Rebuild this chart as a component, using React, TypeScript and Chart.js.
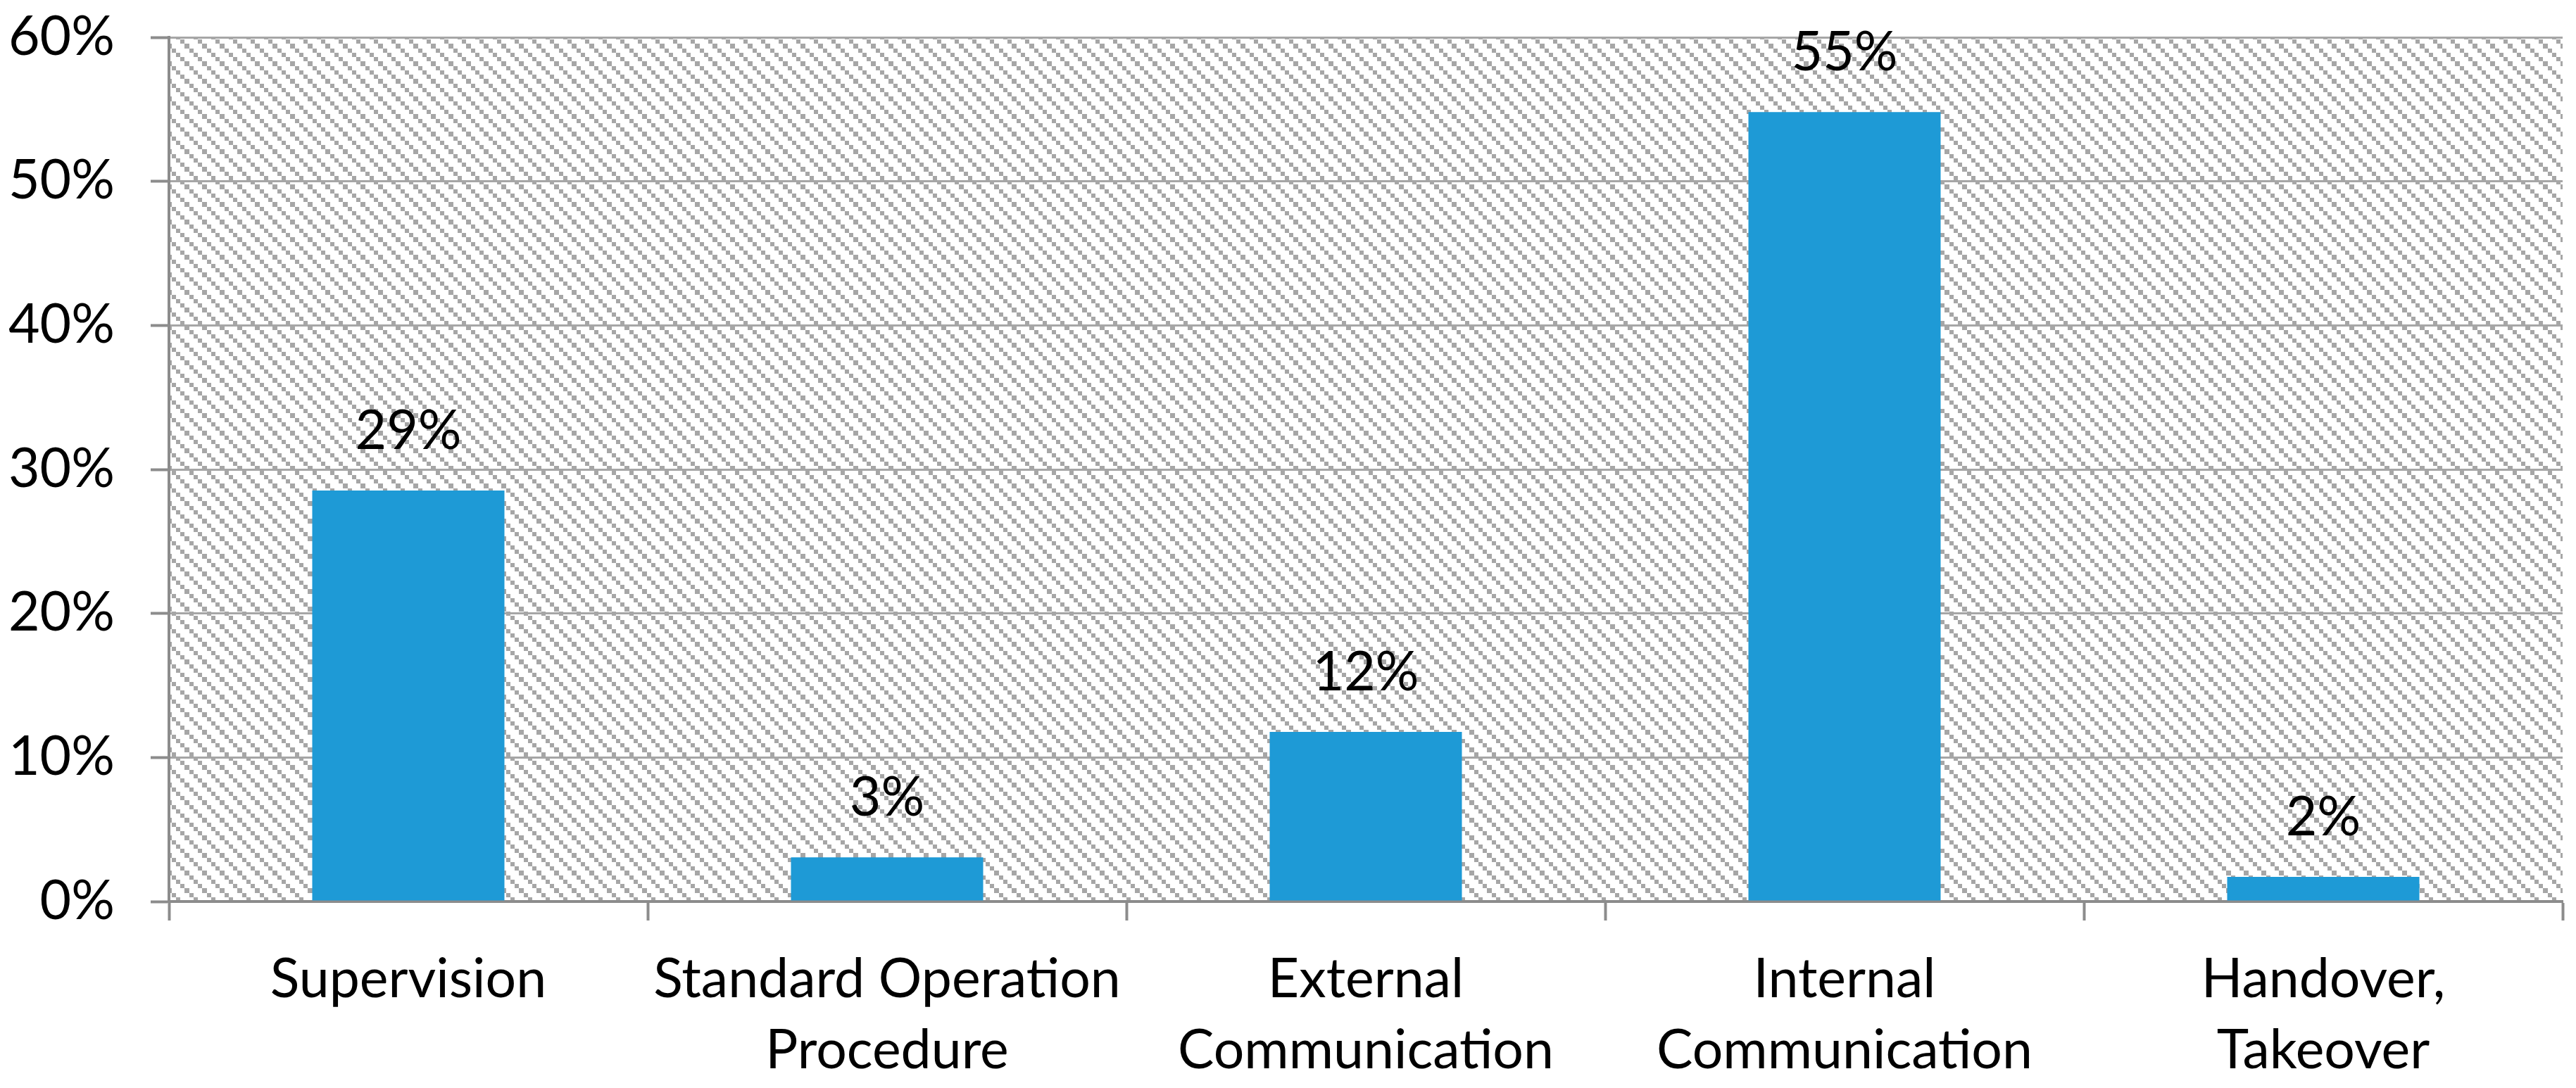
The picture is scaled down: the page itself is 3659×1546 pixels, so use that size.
import React, { useEffect, useRef } from "react";
import { Chart, registerables } from "chart.js";

Chart.register(...registerables);

const categories: (string | string[])[] = [
  "Supervision",
  ["Standard Operation", "Procedure"],
  ["External", "Communication"],
  ["Internal", "Communication"],
  ["Handover,", "Takeover"],
];
const shares: number[] = [28.53, 3.06, 11.77, 54.81, 1.71];
const yTicks: number[] = [0, 10, 20, 30, 40, 50, 60];

const FONT = "Lato";
const FONT_SIZE = 77;

function makeHatch(ctx: CanvasRenderingContext2D): CanvasPattern | string {
  const edges = [0, 6, 12, 19, 25];
  const size = 25;
  const c = document.createElement("canvas");
  c.width = size;
  c.height = size;
  const g = c.getContext("2d");
  if (!g) return "#ffffff";
  g.fillStyle = "#ffffff";
  g.fillRect(0, 0, size, size);
  g.fillStyle = "#a6a6a6";
  for (let i = 0; i < 4; i++) {
    const a = edges[i];
    const w = edges[i + 1] - edges[i];
    g.fillRect(a, a, w, w);
  }
  return ctx.createPattern(c, "repeat") || "#ffffff";
}

const hatchPlugin = {
  id: "hatchBg",
  beforeDraw(chart: any) {
    const { ctx, chartArea } = chart;
    if (!chartArea) return;
    ctx.save();
    ctx.fillStyle = makeHatch(ctx);
    ctx.fillRect(
      chartArea.left,
      chartArea.top,
      chartArea.right - chartArea.left,
      chartArea.bottom - chartArea.top
    );
    ctx.restore();
  },
};

const valueLabelPlugin = {
  id: "valueLabels",
  afterDatasetsDraw(chart: any) {
    const { ctx } = chart;
    const meta = chart.getDatasetMeta(0);
    ctx.save();
    ctx.font = `${FONT_SIZE}px ${FONT}`;
    ctx.fillStyle = "#000000";
    ctx.textAlign = "center";
    ctx.textBaseline = "alphabetic";
    meta.data.forEach((bar: any, i: number) => {
      const v = chart.data.datasets[0].data[i] as number;
      ctx.fillText(`${Math.round(v)}%`, bar.x, bar.y - 59);
    });
    ctx.restore();
  },
};

export default function App() {
  const ref = useRef<HTMLCanvasElement | null>(null);

  useEffect(() => {
    if (!ref.current) return;
    const chart = new Chart(ref.current, {
      type: "bar",
      data: {
        labels: categories,
        datasets: [
          {
            data: shares,
            backgroundColor: "#1e9ad6",
            borderWidth: 0,
            barPercentage: 0.4015,
            categoryPercentage: 1,
          },
        ],
      },
      options: {
        animation: false,
        responsive: true,
        maintainAspectRatio: false,
        layout: { padding: { top: 53, right: 19, left: 0, bottom: 0 } },
        plugins: {
          legend: { display: false },
          tooltip: { enabled: false },
          title: { display: false },
        },
        scales: {
          x: {
            offset: true,
            grid: {
              display: true,
              offset: true,
              drawOnChartArea: false,
              drawTicks: true,
              tickLength: 27,
              tickColor: "#8c8c8c",
              tickWidth: 4,
            },
            border: { display: true, color: "#8c8c8c", width: 4 },
            ticks: {
              color: "#000000",
              padding: 33,
              maxRotation: 0,
              minRotation: 0,
              autoSkip: false,
              font: { family: FONT, size: FONT_SIZE, lineHeight: 1.32 },
            },
            afterFit(scale: any) {
              scale.height = 265;
            },
          },
          y: {
            min: 0,
            max: 60,
            afterBuildTicks(scale: any) {
              scale.ticks = yTicks.map((v) => ({ value: v }));
            },
            grid: {
              color: "#a6a6a6",
              lineWidth: 3,
              drawTicks: true,
              tickLength: 26,
              tickColor: "#8c8c8c",
              tickWidth: 4,
            },
            border: { display: true, color: "#8c8c8c", width: 4 },
            ticks: {
              color: "#000000",
              padding: 51,
              font: { family: FONT, size: FONT_SIZE },
              callback: (v: any) => `${v}%`,
            },
            afterFit(scale: any) {
              scale.width = 240;
              scale.paddingTop = 0;
              scale.paddingBottom = 0;
            },
          },
        },
      },
      plugins: [hatchPlugin, valueLabelPlugin],
    });
    return () => chart.destroy();
  }, []);

  return (
    <div
      style={{
        position: "fixed",
        left: 0,
        top: 0,
        width: "3659px",
        height: "1546px",
        background: "#ffffff",
      }}
    >
      <canvas ref={ref} />
    </div>
  );
}
